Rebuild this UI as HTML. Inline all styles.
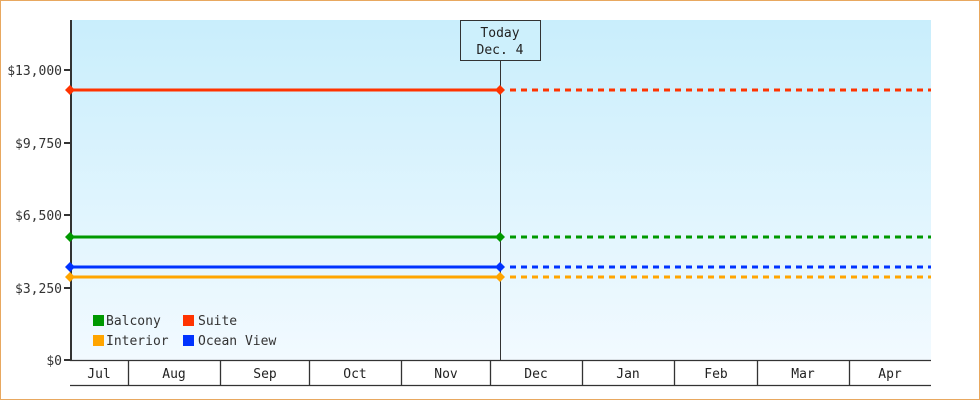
<!DOCTYPE html>
<html><head><meta charset="utf-8"><style>
html,body{margin:0;padding:0;background:#fff}
svg{display:block;font-family:"DejaVu Sans Mono","Liberation Mono",monospace}
</style></head><body>
<svg width="980" height="400" viewBox="0 0 980 400" xmlns="http://www.w3.org/2000/svg">
<defs><linearGradient id="bg" x1="0" y1="0" x2="0" y2="1"><stop offset="0" stop-color="#c9eefc"/><stop offset="1" stop-color="#f2faff"/></linearGradient></defs>
<rect x="0.5" y="0.5" width="979" height="399" fill="#fff" stroke="#e8a860"/>
<rect x="71" y="20" width="860" height="340" fill="url(#bg)"/>
<line x1="71" y1="20" x2="71" y2="361" stroke="#333" stroke-width="2"/>
<g stroke="#333" stroke-width="2">
<line x1="64" y1="70" x2="71" y2="70"/><line x1="64" y1="143" x2="71" y2="143"/><line x1="64" y1="215" x2="71" y2="215"/><line x1="64" y1="288" x2="71" y2="288"/><line x1="64" y1="360" x2="71" y2="360"/>
</g>
<g font-size="13" fill="#333" text-anchor="end">
<text x="62" y="75">$13,000</text><text x="62" y="148">$9,750</text><text x="62" y="220">$6,500</text><text x="62" y="293">$3,250</text><text x="62" y="365">$0</text>
</g>
<g stroke="#333" stroke-width="1.3" fill="none">
<line x1="70" y1="360.5" x2="931" y2="360.5"/><line x1="70" y1="385.5" x2="931" y2="385.5"/>
<line x1="128.5" y1="360" x2="128.5" y2="385"/><line x1="220.5" y1="360" x2="220.5" y2="385"/><line x1="309.5" y1="360" x2="309.5" y2="385"/><line x1="401.5" y1="360" x2="401.5" y2="385"/><line x1="490.5" y1="360" x2="490.5" y2="385"/><line x1="582.5" y1="360" x2="582.5" y2="385"/><line x1="674.5" y1="360" x2="674.5" y2="385"/><line x1="757.5" y1="360" x2="757.5" y2="385"/><line x1="849.5" y1="360" x2="849.5" y2="385"/>
</g>
<g font-size="13" fill="#222" text-anchor="middle">
<text x="99" y="378">Jul</text><text x="174" y="378">Aug</text><text x="265" y="378">Sep</text><text x="355" y="378">Oct</text><text x="446" y="378">Nov</text><text x="536" y="378">Dec</text><text x="628" y="378">Jan</text><text x="716" y="378">Feb</text><text x="803" y="378">Mar</text><text x="890" y="378">Apr</text>
</g>
<line x1="500.5" y1="60" x2="500.5" y2="360" stroke="#333" stroke-width="1"/>
<rect x="460.5" y="20.5" width="80" height="40" fill="#cdf0fc" stroke="#333"/>
<text x="500" y="37" font-size="13" fill="#222" text-anchor="middle">Today</text>
<text x="500" y="54" font-size="13" fill="#222" text-anchor="middle">Dec. 4</text>
<g stroke-width="3" fill="none">
<line x1="71" y1="90" x2="500" y2="90" stroke="#ff3300"/><line x1="510" y1="90" x2="931" y2="90" stroke="#ff3300" stroke-dasharray="6,5"/>
<line x1="71" y1="237" x2="500" y2="237" stroke="#009900"/><line x1="510" y1="237" x2="931" y2="237" stroke="#009900" stroke-dasharray="6,5"/>
<line x1="71" y1="267" x2="500" y2="267" stroke="#0033ff"/><line x1="510" y1="267" x2="931" y2="267" stroke="#0033ff" stroke-dasharray="6,5"/>
<line x1="71" y1="277" x2="500" y2="277" stroke="#ffa500"/><line x1="510" y1="277" x2="931" y2="277" stroke="#ffa500" stroke-dasharray="6,5"/>
</g>
<g>
<polygon points="70,85 75,90 70,95 65,90" fill="#ff3300"/><polygon points="500,85 505,90 500,95 495,90" fill="#ff3300"/>
<polygon points="70,232 75,237 70,242 65,237" fill="#009900"/><polygon points="500,232 505,237 500,242 495,237" fill="#009900"/>
<polygon points="70,262 75,267 70,272 65,267" fill="#0033ff"/><polygon points="500,262 505,267 500,272 495,267" fill="#0033ff"/>
<polygon points="70,272 75,277 70,282 65,277" fill="#ffa500"/><polygon points="500,272 505,277 500,282 495,277" fill="#ffa500"/>
</g>
<rect x="93" y="315" width="11" height="11" fill="#009900"/><text x="106" y="325" font-size="13" fill="#333">Balcony</text>
<rect x="183" y="315" width="11" height="11" fill="#ff3300"/><text x="198" y="325" font-size="13" fill="#333">Suite</text>
<rect x="93" y="335" width="11" height="11" fill="#ffa500"/><text x="106" y="345" font-size="13" fill="#333">Interior</text>
<rect x="183" y="335" width="11" height="11" fill="#0033ff"/><text x="198" y="345" font-size="13" fill="#333">Ocean View</text>
</svg>
</body></html>
